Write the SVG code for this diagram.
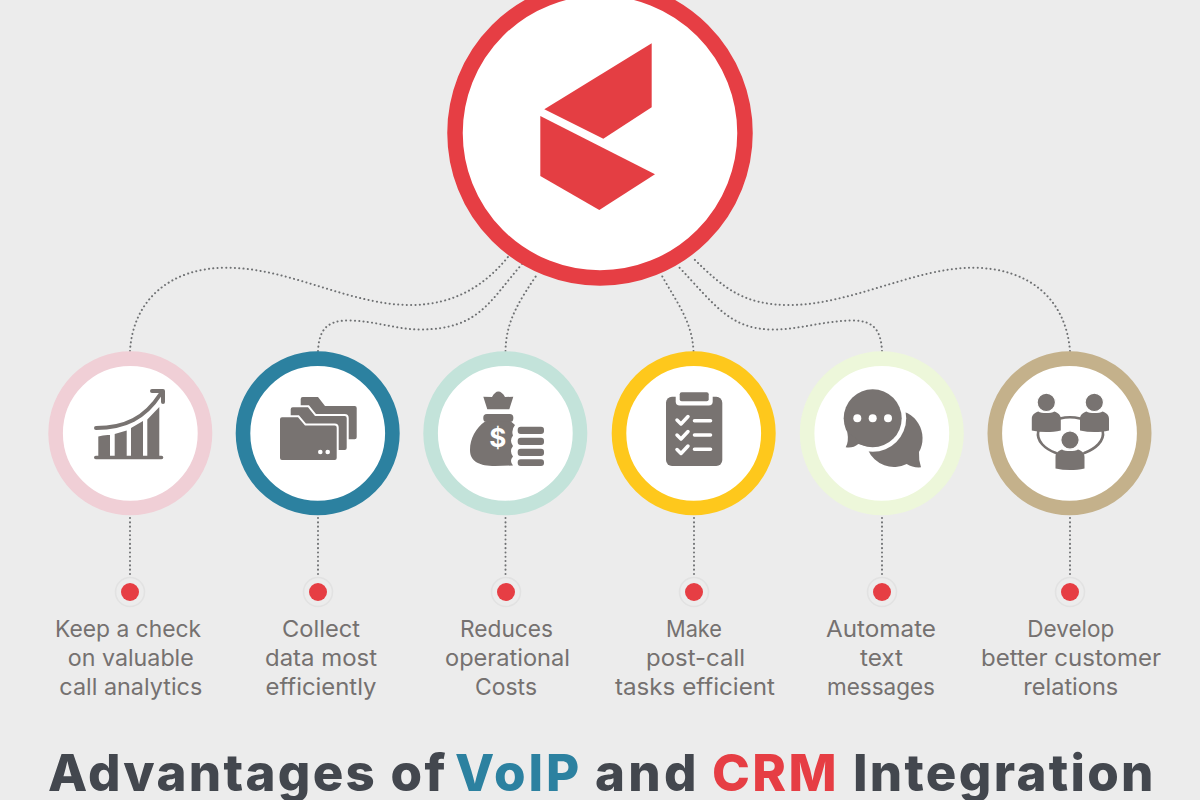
<svg xmlns="http://www.w3.org/2000/svg" width="1200" height="800" viewBox="0 0 1200 800">
<style>
.ring{fill:#fff;stroke-width:14.6}
.link{fill:none;stroke:#6f7173;stroke-width:2;stroke-linecap:round;stroke-dasharray:0.1 4.2}
.halo{fill:#ececec;stroke:#e2e2e2;stroke-width:1.6}
.dot{fill:#e63e44}
.ic{fill:#787371}
.w{fill:#fff}
.ws{fill:none;stroke:#fff;stroke-linecap:round;stroke-linejoin:round}
.is{fill:none;stroke:#787371;stroke-linecap:round}
.fold{fill:#787371;stroke:#fff;stroke-width:4;paint-order:stroke}
.head{fill:#787371;stroke:#fff;stroke-width:1.2}
.lab{font-family:Inter,"Liberation Sans",sans-serif;font-size:23px;fill:#757170;text-anchor:middle}
</style>
<defs>
<g id="person">
<path d="M-14.500 9.500V-2C-14.500 -6 -12 -8 -8 -9.500C-5 -7.500 5 -7.500 8 -9.500C12 -8 14.500 -6 14.500 -2V9.500C5 11.500 -5 11.500 -14.500 9.500Z" class="ic"/>
</g>
</defs>
<rect width="1200" height="800" fill="#ececec"/>
<g id="connectors">
<path class="link" d="M130 351C133 300 170 267.700 227 267.700C290 268 350 305 410 305C455 305 485 285 508 257"/>
<path class="link" d="M318 351C319 332 325 320.500 348 320.500C375 320.500 395 329.500 420 329.500C480 329.500 490 300 523 263"/>
<path class="link" d="M505.500 351C506 320 520 300 538 273"/>
<path class="link" d="M693.500 351C692 320 675 300 661 274"/>
<path class="link" d="M882 351C881 332 875 320.500 853 320.500C825 320.500 800 329.500 773 329.500C730 329.500 715 305 677 265"/>
<path class="link" d="M1070 351C1066 300 1030 267.700 972 267.700C915 268 850 305 790 305C745 305 725 290 692 257"/>
<path class="link" d="M130 518V576M318 518V576M505.500 518V576M694 518V576M882 518V576M1070 518V576"/>
</g>
<g id="hub">
<circle cx="600" cy="133" r="145" fill="#fff" stroke="#e63e44" stroke-width="15.500"/>
<polygon points="544.300,109.300 651.700,43.300 651.700,107.300 603.300,138.700" fill="#e43e43"/>
<polygon points="540.300,116 655,174.300 599.300,210 540.300,176" fill="#e43e43"/>
</g>
<g id="node-analytics">
<circle class="ring" cx="130.300" cy="433.300" r="74.700" stroke="#f0cfd6"/>
<path class="ic" d="M94 457.500a1.800 1.800 0 0 1 1.800-1.800H161.500a1.800 1.800 0 0 1 0 3.600H95.800a1.800 1.800 0 0 1-1.800-1.800ZM98.300 436.500Q104 434.500 110 435V455.700H98.300ZM114.700 434L126.700 430.500V455.700H114.700ZM131 428L143 421V455.700H131ZM147.300 419.500L159.300 407V455.700H147.300Z"/>
<path class="is" stroke-width="4" d="M96 428C125 428 145 418 160.500 394"/>
<path class="is" stroke-width="4" stroke-linejoin="round" d="M152 391H163V402"/>
<circle class="halo" cx="130" cy="592" r="14.500"/><circle class="dot" cx="130" cy="592" r="9"/>
<text class="lab" x="128" y="636.500" textLength="146" lengthAdjust="spacingAndGlyphs">Keep a check</text>
<text class="lab" x="130.800" y="665.500" textLength="126" lengthAdjust="spacingAndGlyphs">on valuable</text>
<text class="lab" x="130.800" y="694.500" textLength="143" lengthAdjust="spacingAndGlyphs">call analytics</text>
</g>
<g id="node-data">
<circle class="ring" cx="317.700" cy="433.300" r="74.700" stroke="#2c81a0"/>
<path class="ic" d="M300.700 399a2 2 0 0 1 2-2H318L325 406H354.700a2 2 0 0 1 2 2V437.300a2 2 0 0 1-2 2H345V420H300.700Z"/>
<path class="fold" d="M290.700 409.300a2 2 0 0 1 2-2H308L315 416H344.700a2 2 0 0 1 2 2V448a2 2 0 0 1-2 2H330V430H290.700Z"/>
<path class="fold" d="M280 419.300a2 2 0 0 1 2-2H298L305 425.500H334.700a2 2 0 0 1 2 2V458a2 2 0 0 1-2 2H282a2 2 0 0 1-2-2Z"/>
<circle class="w" cx="320.300" cy="452" r="2.300"/><circle class="w" cx="327.700" cy="452" r="2.300"/>
<circle class="halo" cx="318" cy="592" r="14.500"/><circle class="dot" cx="318" cy="592" r="9"/>
<text class="lab" x="321" y="636.500" textLength="78" lengthAdjust="spacingAndGlyphs">Collect</text>
<text class="lab" x="321" y="665.500" textLength="112" lengthAdjust="spacingAndGlyphs">data most</text>
<text class="lab" x="321" y="694.500" textLength="111" lengthAdjust="spacingAndGlyphs">efficiently</text>
</g>
<g id="node-costs">
<circle class="ring" cx="505.300" cy="433.300" r="74.700" stroke="#c3e3da"/>
<path class="ic" d="M483.300 396.700L492 397Q495 391.500 498.300 391.500Q502 391.500 505 397L513.300 396.700L509.300 409.300H487.300Z"/>
<rect class="ic" x="483.300" y="414" width="30" height="8" rx="3.500"/>
<path class="ic" d="M485 421.500C476 428 470 438 470 450C470 462 480 466 495 466L513 465.500Q509 461 513 456.500Q509 451 513 446Q509 440.500 513 435.500Q511 430 515 425L511 421.500Z"/>
<text x="497.700" y="447" font-family="Inter,'Liberation Sans',sans-serif" font-size="26" font-weight="700" fill="#fff" text-anchor="middle">$</text>
<rect class="ic" x="517.700" y="426.700" width="26.300" height="7.300" rx="3"/>
<rect class="ic" x="517.700" y="437.700" width="26.300" height="7.300" rx="3"/>
<rect class="ic" x="517.700" y="448.700" width="26.300" height="7.300" rx="3"/>
<rect class="ic" x="517.700" y="459.300" width="26.300" height="6.700" rx="3"/>
<circle class="halo" cx="506" cy="592" r="14.500"/><circle class="dot" cx="506" cy="592" r="9"/>
<text class="lab" x="506.500" y="636.500" textLength="93" lengthAdjust="spacingAndGlyphs">Reduces</text>
<text class="lab" x="507.500" y="665.500" textLength="125" lengthAdjust="spacingAndGlyphs">operational</text>
<text class="lab" x="506" y="694.500" textLength="62" lengthAdjust="spacingAndGlyphs">Costs</text>
</g>
<g id="node-tasks">
<circle class="ring" cx="693.700" cy="433.300" r="74.700" stroke="#fec81c"/>
<rect class="ic" x="666" y="396.700" width="56.300" height="69.300" rx="6"/>
<rect class="w" x="675.700" y="389" width="37" height="16.500" rx="4"/>
<rect class="ic" x="679.700" y="392.300" width="29" height="9" rx="2"/>
<path class="ws" stroke-width="3.500" d="M677 420L681 424L688 416.500M677 435L681 439L688 431.500M677 449.500L681 453.500L688 446"/>
<path class="ws" stroke-width="3.600" d="M694.500 420.700H710.500M694.500 435H710.500M694.500 449.300H710.500"/>
<circle class="halo" cx="694" cy="592" r="14.500"/><circle class="dot" cx="694" cy="592" r="9"/>
<text class="lab" x="694" y="636.500" textLength="56" lengthAdjust="spacingAndGlyphs">Make</text>
<text class="lab" x="695.500" y="665.500" textLength="99" lengthAdjust="spacingAndGlyphs">post-call</text>
<text class="lab" x="695" y="694.500" textLength="160" lengthAdjust="spacingAndGlyphs">tasks efficient</text>
</g>
<g id="node-messages">
<circle class="ring" cx="881.800" cy="433.300" r="74.700" stroke="#edf7da"/>
<path class="ic" d="M893.300 410A28.300 28.300 0 0 1 919 452Q918.500 460 921 467.300Q913 468 906.700 464A28.300 28.300 0 0 1 868 450Z"/>
<circle class="w" cx="872.700" cy="418.300" r="33.500"/>
<circle class="ic" cx="872.700" cy="418.300" r="29"/>
<path class="ic" d="M847.300 432Q849 442 845.700 447.300Q853 448.500 858.300 444L866 446Z"/>
<circle class="w" cx="857.300" cy="418.300" r="4"/><circle class="w" cx="872.700" cy="418.300" r="4"/><circle class="w" cx="888" cy="418.300" r="4"/>
<circle class="halo" cx="882" cy="592" r="14.500"/><circle class="dot" cx="882" cy="592" r="9"/>
<text class="lab" x="881" y="636.500" textLength="110" lengthAdjust="spacingAndGlyphs">Automate</text>
<text class="lab" x="881.500" y="665.500" textLength="43" lengthAdjust="spacingAndGlyphs">text</text>
<text class="lab" x="881" y="694.500" textLength="108" lengthAdjust="spacingAndGlyphs">messages</text>
</g>
<g id="node-relations">
<circle class="ring" cx="1069.500" cy="433.300" r="74.700" stroke="#c4b18b"/>
<path class="is" stroke-width="2.600" d="M1060 418.500Q1070 416 1080 418.500M1038.300 431C1036 441 1045 449 1056 453M1102.700 431C1105 441 1095 449 1084.300 453"/>
<use href="#person" x="1046.300" y="421"/>
<use href="#person" x="1094.500" y="421"/>
<use href="#person" x="1070" y="459"/>
<circle class="head" cx="1046.300" cy="402.300" r="9.200"/>
<circle class="head" cx="1094.300" cy="402.300" r="9.200"/>
<circle class="head" cx="1070" cy="440" r="9.200"/>
<circle class="halo" cx="1070" cy="592" r="14.500"/><circle class="dot" cx="1070" cy="592" r="9"/>
<text class="lab" x="1070.800" y="636.500" textLength="87" lengthAdjust="spacingAndGlyphs">Develop</text>
<text class="lab" x="1071" y="665.500" textLength="180" lengthAdjust="spacingAndGlyphs">better customer</text>
<text class="lab" x="1070.800" y="694.500" textLength="95" lengthAdjust="spacingAndGlyphs">relations</text>
</g>
<text id="title" y="791" font-family="Inter,'Liberation Sans',sans-serif" font-size="51" font-weight="800" fill="#43474e" letter-spacing="2.300"><tspan x="48">Advantages of</tspan> <tspan x="455" fill="#2c81a0" letter-spacing="3">VoIP</tspan> <tspan x="595" letter-spacing="3.300">and</tspan> <tspan x="712" fill="#e63e44" letter-spacing="2.400">CRM</tspan> <tspan x="853">Integration</tspan></text>
</svg>
